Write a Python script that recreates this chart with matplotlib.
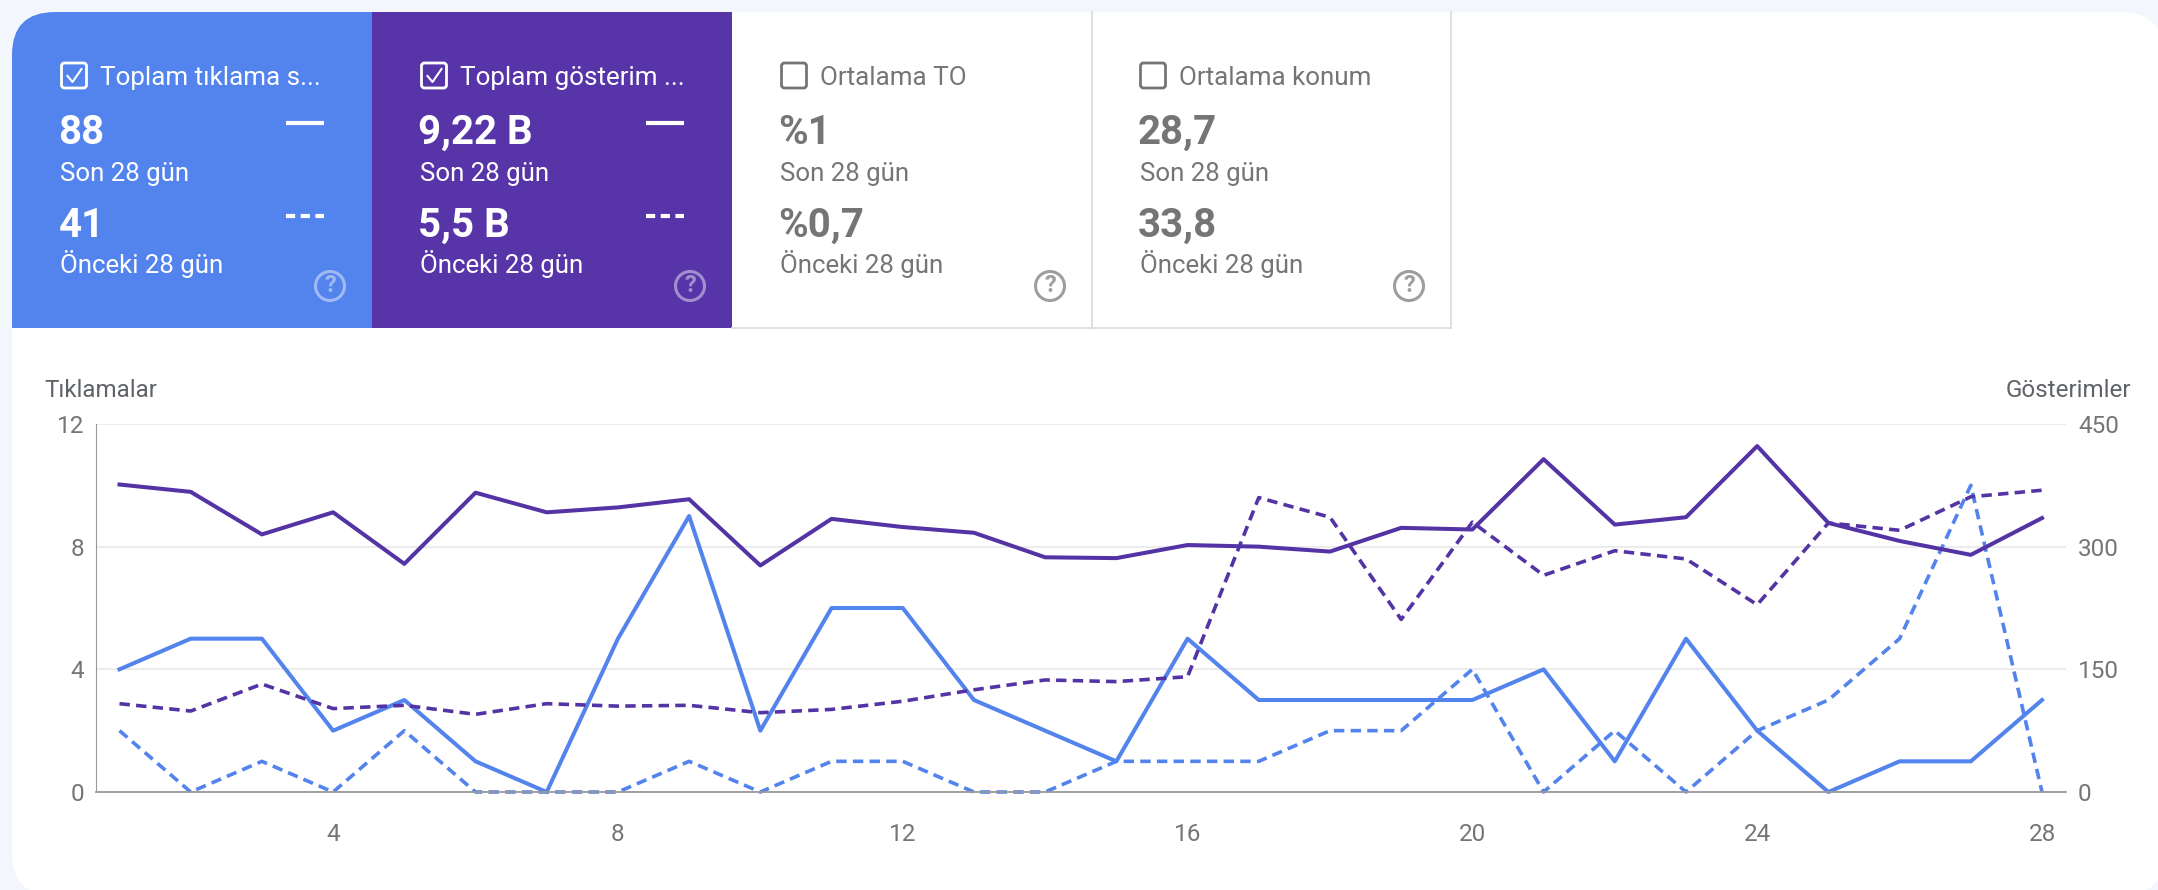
"""Search Console performance cards and the clicks / impressions line chart."""
import matplotlib
matplotlib.use('Agg')
import matplotlib.pyplot as plt
import matplotlib.patches as mpatches

plt.rcParams['font.family'] = ['Roboto', 'DejaVu Sans']
plt.rcParams['lines.scale_dashes'] = False

# data
days = list(range(1, 29))
clicks_now = [4, 5, 5, 2, 3, 1, 0, 5, 9, 2, 6, 6, 3, 2, 1, 5, 3, 3, 3, 3, 4, 1, 5, 2, 0, 1, 1, 3]
clicks_prev = [2, 0, 1, 0, 2, 0, 0, 0, 1, 0, 1, 1, 0, 0, 1, 1, 1, 2, 2, 4, 0, 2, 0, 2, 3, 5, 10, 0]
impr_now = [376, 367, 315, 342, 279, 366, 342, 348, 358, 277, 334, 324, 317, 287, 286, 302, 300, 294,
            323, 321, 407, 327, 336, 423, 329, 307, 290, 335]
impr_prev = [108, 99, 132, 102, 106, 95, 108, 105, 106, 97, 101, 111, 125, 137, 135, 141, 360, 336,
             211, 330, 265, 295, 285, 229, 329, 320, 361, 369]
x_ticks = [4, 8, 12, 16, 20, 24, 28]
clicks_ticks = [0, 4, 8, 12]
impr_ticks = [0, 150, 300, 450]

card_titles = ['Toplam tıklama s...', 'Toplam gösterim ...', 'Ortalama TO', 'Ortalama konum']
card_now = ['88', '9,22 B', '%1', '28,7']
card_prev = ['41', '5,5 B', '%0,7', '33,8']
card_lefts = [12, 372, 732, 1091]

W, H = 2158, 890
BLUE = '#5383EC'
PURPLE = '#5735A8'
LINE_PURPLE = '#5434A4'
GREY = '#757575'
BORDER = '#DADCE0'
PAGE = '#F3F6FC'

fig = plt.figure(figsize=(W / 100, H / 100), dpi=100, facecolor=PAGE)

# backdrop in pixel coordinates
bg = fig.add_axes([0, 0, 1, 1])
bg.set_xlim(0, W)
bg.set_ylim(H, 0)
bg.set_axis_off()

# white sheet runs slightly past the right and bottom edges of the picture
sheet = mpatches.FancyBboxPatch((12, 12), 2152, 884, boxstyle='round,pad=0,rounding_size=43',
                                fc='white', ec='none')
bg.add_patch(sheet)

for i, left in enumerate(card_lefts):
    selected = i < 2
    if selected:
        rect = mpatches.Rectangle((left, 12), 360, 316, fc=[BLUE, PURPLE][i], ec='none')
        bg.add_patch(rect)
        rect.set_clip_path(sheet)
    else:
        bg.plot([left + 360, left + 360], [12, 328], color=BORDER, lw=1.3)
        bg.plot([left, left + 360], [328, 328], color=BORDER, lw=1.3)
    fg = 'white' if selected else GREY
    tx = left + 48.5

    box = mpatches.FancyBboxPatch((tx + 1, 63), 25, 25, boxstyle='round,pad=0,rounding_size=3',
                                  fc='none', ec=fg, lw=2.0)
    bg.add_patch(box)
    if selected:
        bg.plot([tx + 7, tx + 12, tx + 21], [76, 82, 69], color=fg, lw=1.5)
    bg.text(tx + 39.5, 85, card_titles[i], fontsize=18.7, color=fg, va='baseline')

    bg.text(tx - 2, 144, card_now[i], fontsize=29, fontweight='bold', color=fg, va='baseline')
    bg.text(tx, 181, 'Son 28 gün', fontsize=18.6, color=fg, va='baseline')
    bg.text(tx - 2, 237, card_prev[i], fontsize=29, fontweight='bold', color=fg, va='baseline')
    bg.text(tx, 273, 'Önceki 28 gün', fontsize=18.6, color=fg, va='baseline')

    if selected:
        bg.plot([left + 274, left + 312], [123, 123], color='white', lw=3.0, solid_capstyle='butt')
        bg.plot([left + 274, left + 312], [216, 216], color='white', lw=3.0,
                dashes=(6.6, 4.0), dash_capstyle='butt')

    help_col = (1, 1, 1, 0.45) if selected else '#9E9E9E'
    bg.add_patch(mpatches.Circle((left + 318, 286), 14.5, fc='none', ec=help_col, lw=2.2))
    bg.text(left + 318, 286, '?', fontsize=17, fontweight='bold', color=help_col, ha='center', va='center')

bg.text(44, 397, 'Tıklamalar', fontsize=17.4, color='#5F6368', va='baseline')
bg.text(2131, 397, 'Gösterimler', fontsize=17.4, color='#5F6368', ha='right', va='baseline')

# chart axes: left 96, right 2066, top 424, bottom 792 in pixels
ax = fig.add_axes([96 / W, 1 - 792 / H, (2066 - 96) / W, (792 - 424) / H])
ax.patch.set_alpha(0)
ax.set_xlim(0.67, 28.337)
ax.set_ylim(0, 12)
ax.set_xticks(x_ticks)
ax.set_yticks(clicks_ticks)
ax.grid(axis='y', color='#EBEBEB', lw=1.3)
ax.set_axisbelow(True)
ax.tick_params(axis='both', length=0, labelsize=17.5, labelcolor=GREY)
ax.tick_params(axis='x', pad=22)
ax.tick_params(axis='y', pad=8.6)
for side in ['top', 'right']:
    ax.spines[side].set_visible(False)
ax.spines['left'].set_color('#9A9A9A')
ax.spines['left'].set_linewidth(0.8)
ax.spines['bottom'].set_color('#9A9A9A')
ax.spines['bottom'].set_linewidth(1.3)

ax2 = ax.twinx()
ax2.patch.set_alpha(0)
ax2.set_ylim(0, 450)
ax2.set_yticks(impr_ticks)
ax2.tick_params(axis='y', length=0, labelsize=17.5, labelcolor=GREY, pad=8.6)
for spine in ax2.spines.values():
    spine.set_visible(False)

ax.plot(days, clicks_prev, color=BLUE, lw=2.6, dashes=(7.5, 4.5), dash_capstyle='butt', clip_on=False)
ax.plot(days, clicks_now, color=BLUE, lw=2.9, clip_on=False)
ax2.plot(days, impr_prev, color=LINE_PURPLE, lw=2.6, dashes=(7.5, 4.5), dash_capstyle='butt')
ax2.plot(days, impr_now, color=LINE_PURPLE, lw=2.9)

fig.savefig('out.png', dpi=100, facecolor=fig.get_facecolor())
